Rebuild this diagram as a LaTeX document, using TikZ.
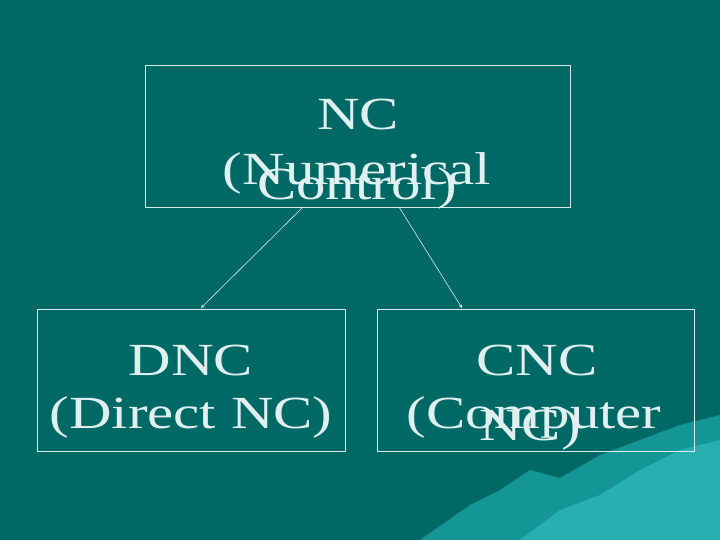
\documentclass[tikz,border=0pt]{standalone}
\usepackage{fontspec}
\setmainfont{Liberation Serif}
\definecolor{bg}{RGB}{0,105,102}
\definecolor{mA}{RGB}{20,150,150}
\definecolor{mB}{RGB}{40,175,175}
\newcommand{\wide}[1]{\scalebox{1.28}[1]{#1}}
\begin{document}
\begin{tikzpicture}[x=1pt,y=-1pt,
  box/.style={draw=white!85!teal,line width=0.6pt},
  txt/.style={anchor=base,text=white!88!teal,font=\fontsize{46}{46}\selectfont,inner sep=0},
  conn/.style={draw=white!85!teal,line width=0.6pt,-stealth}]
\useasboundingbox (0,0) rectangle (720,540);
\fill[bg] (0,0) rectangle (720,540);
\fill[mA] (420,540) -- (470,505) -- (500,490) -- (530,470) -- (560,478) -- (600,455) -- (640,440) -- (680,425) -- (720,415) -- (720,540) -- cycle;
\fill[mB] (520,540) -- (560,510) -- (600,495) -- (640,470) -- (680,450) -- (720,440) -- (720,540) -- cycle;
\node[box,minimum width=425,minimum height=142,anchor=north west] (nc) at (145,65) {};
\node[box,minimum width=308,minimum height=142,anchor=north west] (dnc) at (37,309) {};
\node[box,minimum width=317,minimum height=142,anchor=north west] (cnc) at (377,309) {};
\node[txt] (t1) at (358,130) {\wide{NC}};
\node[txt] (t2) at (357,185) {\wide{(Numerical}};
\node[txt] (t3) at (357,200) {\wide{Control)}};
\node[txt] (t4) at (191,375) {\wide{DNC}};
\node[txt] (t5) at (191,428) {\wide{(Direct NC)}};
\node[txt] (t6) at (537,375) {\wide{CNC}};
\node[txt] (t7) at (534,428) {\wide{(Computer}};
\node[txt] (t8) at (530,440) {\wide{NC)}};
\coordinate (a1) at (303,207); \coordinate (a2) at (201,308);
\coordinate (b1) at (399,207); \coordinate (b2) at (462,308);
\draw[conn] (a1) -- (a2);
\draw[conn] (b1) -- (b2);
\end{tikzpicture}
\end{document}
